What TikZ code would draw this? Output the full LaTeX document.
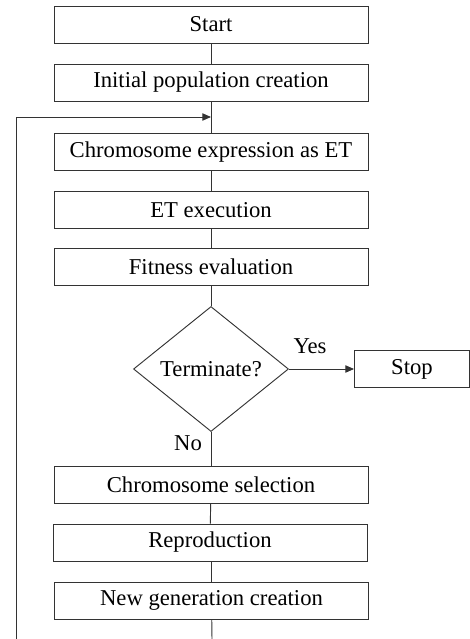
\documentclass[tikz,border=0pt]{standalone}
\usepackage{fontspec}
\setmainfont{Liberation Serif}
\usetikzlibrary{shapes.geometric,arrows.meta}

\begin{document}
\begin{tikzpicture}[x=0.75pt,y=-0.75pt,
    every node/.style={font=\fontsize{17}{19}\selectfont},
    box/.style={draw=black!80, line width=0.7pt, minimum width=235.5pt, minimum height=27.75pt, inner sep=0pt},
    decision/.style={draw=black!80, line width=0.7pt, diamond, aspect=1.24, minimum width=116.25pt, minimum height=93.75pt, inner sep=0pt},
    link/.style={draw=black!80, line width=0.7pt},
    arrow/.style={link, -{Triangle[length=6.5pt,width=5.5pt]}}]
  \useasboundingbox (0,0) rectangle (470,639);

  % Main steps
  \node[box] (start) at (211,24.5) {Start};
  \node[box] (init) at (211,82.5) {Initial population creation};
  \node[box] (expr) at (211,152) {Chromosome expression as ET};
  \node[box] (exec) at (211,210) {ET execution};
  \node[box] (fit) at (211,267) {Fitness evaluation};

  % Decision
  \node[decision] (term) at (211,369) {Terminate?};
  \node[box, minimum width=86.25pt] (stop) at (412,369) {Stop};
  \node (yes) at (310,346) {Yes};
  \node (no) at (188,443) {No};

  % Next generation
  \node[box] (sel) at (211,484.5) {Chromosome selection};
  \node[box] (rep) at (210,542.5) {Reproduction};
  \node[box] (gen) at (211.5,600.5) {New generation creation};

  % Connectors
  \coordinate (join) at (211,117);
  \coordinate (genbot) at (212,639);
  \coordinate (loopbot) at (16,639);
  \draw[link] (start) -- (init);
  \draw[link] (init) -- (expr);
  \draw[link] (expr) -- (exec);
  \draw[link] (exec) -- (fit);
  \draw[link] (fit) -- (term);
  \draw[arrow] (term.east) -- (stop.west);
  \draw[link] (term.south) -- (sel);
  \draw[link] (sel) -- (rep);
  \draw[link] (rep.south -| gen) -- (gen);
  \draw[link] (gen) -- (genbot);
  \draw[arrow] (loopbot) |- (join);
\end{tikzpicture}
\end{document}
